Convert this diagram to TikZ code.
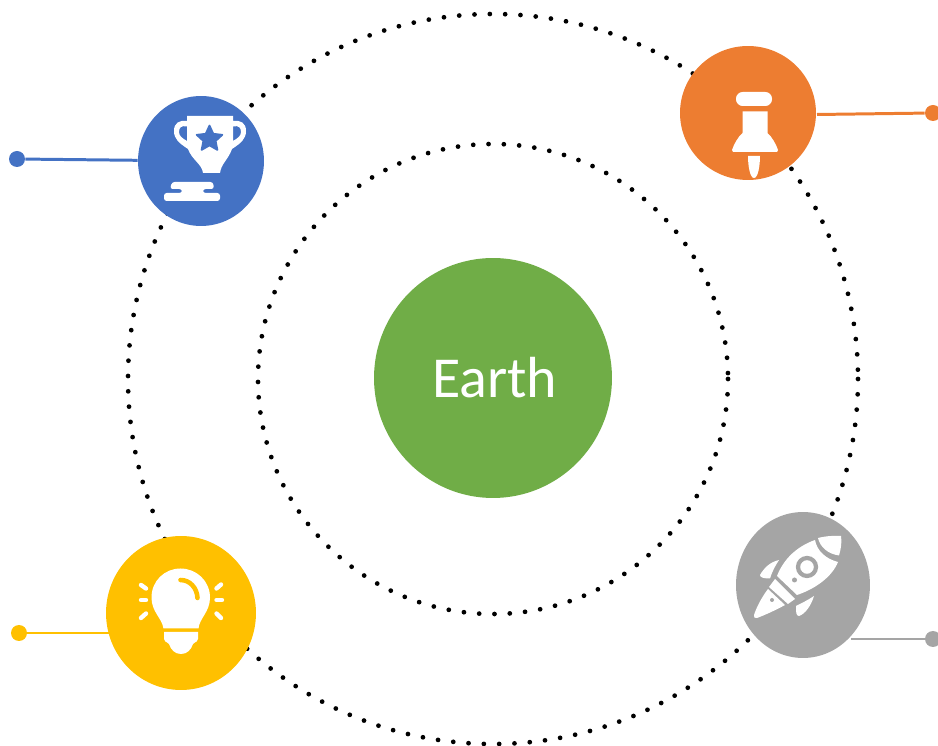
\documentclass[tikz,border=0pt]{standalone}
\usepackage{fontspec}
\setmainfont{Carlito}
\usetikzlibrary{shapes.geometric}
\definecolor{earthgreen}{HTML}{70AD47}
\definecolor{trophyblue}{HTML}{4472C4}
\definecolor{pinorange}{HTML}{ED7D31}
\definecolor{bulbyellow}{HTML}{FFC000}
\definecolor{rocketgray}{HTML}{A5A5A5}
\tikzset{
	ball/.style={ellipse, inner sep=0pt, fill=#1},
	tip/.style={circle, inner sep=0pt, minimum size=0.32cm, fill=#1},
	lead/.style={line width=1.7pt, draw=#1},
	orbit/.style={line width=2.7pt, line cap=round, dash pattern=on 0pt off #1},
	icon/.style={fill=white, draw=none},
	ray/.style={draw=white, line width=2.5pt, line cap=round}
}
\begin{document}
\begin{tikzpicture}[x=0.02cm, y=-0.02cm]
	\useasboundingbox (0,0) rectangle (938,746);
	\coordinate (Centre) at (493,379);
	\draw[orbit=8.726pt] (Centre) circle[radius=365];
	\draw[orbit=8.72pt] (Centre) circle[radius=235];
	% Circles
	\node[ball=earthgreen, minimum width=4.76cm, minimum height=4.8cm, text=white, font=\fontsize{33}{33}\selectfont] (Earth) at (493,378) {\raisebox{-0.6pt}{\kern2pt Earth}};
	\node[ball=trophyblue, minimum width=2.52cm, minimum height=2.6cm] (Trophy) at (201,161) {};
	\node[ball=pinorange, minimum width=2.72cm, minimum height=2.68cm] (Pin) at (748,113) {};
	\node[ball=bulbyellow, minimum width=3cm, minimum height=3.08cm] (Bulb) at (181,613) {};
	\node[ball=rocketgray, minimum width=2.68cm, minimum height=2.92cm] (Rocket) at (803,585) {};
	% Leads
	\node[tip=trophyblue] (TrophyTip) at (17,159) {};
	\node[tip=pinorange] (PinTip) at (933,113) {};
	\node[tip=bulbyellow] (BulbTip) at (19,633) {};
	\node[tip=rocketgray] (RocketTip) at (933,639) {};
	\coordinate (PinEnd) at (817,114.5);
	\coordinate (BulbEnd) at (109,633);
	\coordinate (RocketEnd) at (851,639);
	\draw[lead=trophyblue] (TrophyTip) -- (Trophy);
	\draw[lead=pinorange] (PinTip) -- (PinEnd);
	\draw[lead=bulbyellow] (BulbTip) -- (BulbEnd);
	\draw[lead=rocketgray] (RocketTip) -- (RocketEnd);
	% Trophy
	\fill[icon, even odd rule] (187,116) -- (233,116) -- (233,121) .. controls (241,120) and (246,123) .. (246,131) .. controls (246,139) and (241,143) .. (232,149) .. controls (228,160) and (221,164) .. (220,173) -- (203,173) .. controls (202,164) and (192,160) .. (188,149) .. controls (179,143) and (174,139) .. (174,131) .. controls (174,123) and (179,120) .. (187,121) -- cycle
		(187,126.5) .. controls (181,125) and (179,128) .. (179,132) .. controls (179,136) and (182,138) .. (187,141) -- cycle
		(233,126.5) .. controls (239,125) and (241,128) .. (241,132) .. controls (241,136) and (238,138) .. (233,141) -- cycle;
	\node[star, star points=5, star point ratio=2.1, fill=trophyblue, draw=trophyblue, line width=1pt, line join=round, inner sep=0pt, minimum size=0.54cm] (TrophyStar) at (209.5,139) {};
	\fill[icon, rounded corners=1.5pt] (172,182) -- (213,182) -- (214,189) -- (203,189) -- (203,193) -- (220,193) -- (220,201) -- (164,201) -- (164,193) -- (182,193) -- (182,189) -- (170,189) -- cycle;
	% Pin
	\fill[icon, rounded corners=3.8pt] (736,92) rectangle (772,106);
	\fill[icon] (742.5,111.5) -- (767.5,111.5) -- (767.5,133) .. controls (772,137) and (776,144) .. (778,150) -- (777,152) -- (733,152) -- (732,150) .. controls (734,144) and (738,137) .. (742.5,133) -- cycle;
	\fill[icon] (748,156) -- (760,156) .. controls (760,166) and (758,178) .. (754,178) .. controls (750,178) and (748,166) .. (748,156) -- cycle;
	% Bulb
	\fill[icon] (163.5,628.5) .. controls (162,618) and (151.5,612) .. (151.5,597.5) .. controls (151.5,581) and (164.5,568.5) .. (180.5,568.5) .. controls (196.5,568.5) and (210,581) .. (210,597.5) .. controls (210,612) and (199.5,618) .. (198.5,628.5) -- cycle;
	\fill[icon] (164,632) -- (198,632) -- (198,639) .. controls (198,642) and (196,641) .. (193,644) .. controls (191,650) and (187,654) .. (181,654) .. controls (175,654) and (171,650) .. (169,644) .. controls (166,641) and (164,642) .. (164,639) -- cycle;
	\draw[draw=bulbyellow, line width=2.6pt, line cap=round] (180.5,580) .. controls (190,580) and (197,588) .. (197.5,598);
	\draw[ray] (141,585) -- (146,588.5);
	\draw[ray] (141,600) -- (146,600);
	\draw[ray] (141,618) -- (146,613.5);
	\draw[ray] (221,584.5) -- (216.5,588.5);
	\draw[ray] (216.5,600) -- (222,600);
	\draw[ray] (216.5,613.5) -- (221,618);
	% Rocket
	\fill[icon] (818,538) .. controls (826,536) and (834,535.5) .. (841,536) .. controls (842,542) and (841,549) .. (839,555.5) .. controls (828,554) and (820,547) .. (818,538) -- cycle;
	\fill[icon] (815,540) .. controls (817,551) and (826,559) .. (838,562) .. controls (832,577) and (815,589) .. (797,595) -- (777,576) .. controls (784,558) and (798,546) .. (815,540) -- cycle;
	\fill[icon] (775,579) -- (795,599) -- (788,604) -- (769,587) -- cycle;
	\fill[icon] (768,589) -- (785,605) .. controls (776,610) and (765,615) .. (757,618) .. controls (755,619) and (753,617) .. (754,615) .. controls (757,606) and (762,597) .. (768,589) -- cycle;
	\fill[icon] (779,560) .. controls (770,562) and (764,568) .. (760,575) .. controls (760,578) and (765,578.5) .. (770,578.5) .. controls (772,572) and (775,566) .. (779,560) -- cycle;
	\fill[icon] (814,596) .. controls (811,606) and (805,614) .. (799,616) .. controls (796,616) and (796,612) .. (796,606) .. controls (802,603) and (808,600) .. (814,596) -- cycle;
	\draw[draw=rocketgray, line width=2.4pt] (807,567) circle[radius=9];
	\fill[rocketgray] (794.5,580) circle[radius=2.5];
	\fill[rocketgray] (772,600) circle[radius=2];
\end{tikzpicture}
\end{document}
